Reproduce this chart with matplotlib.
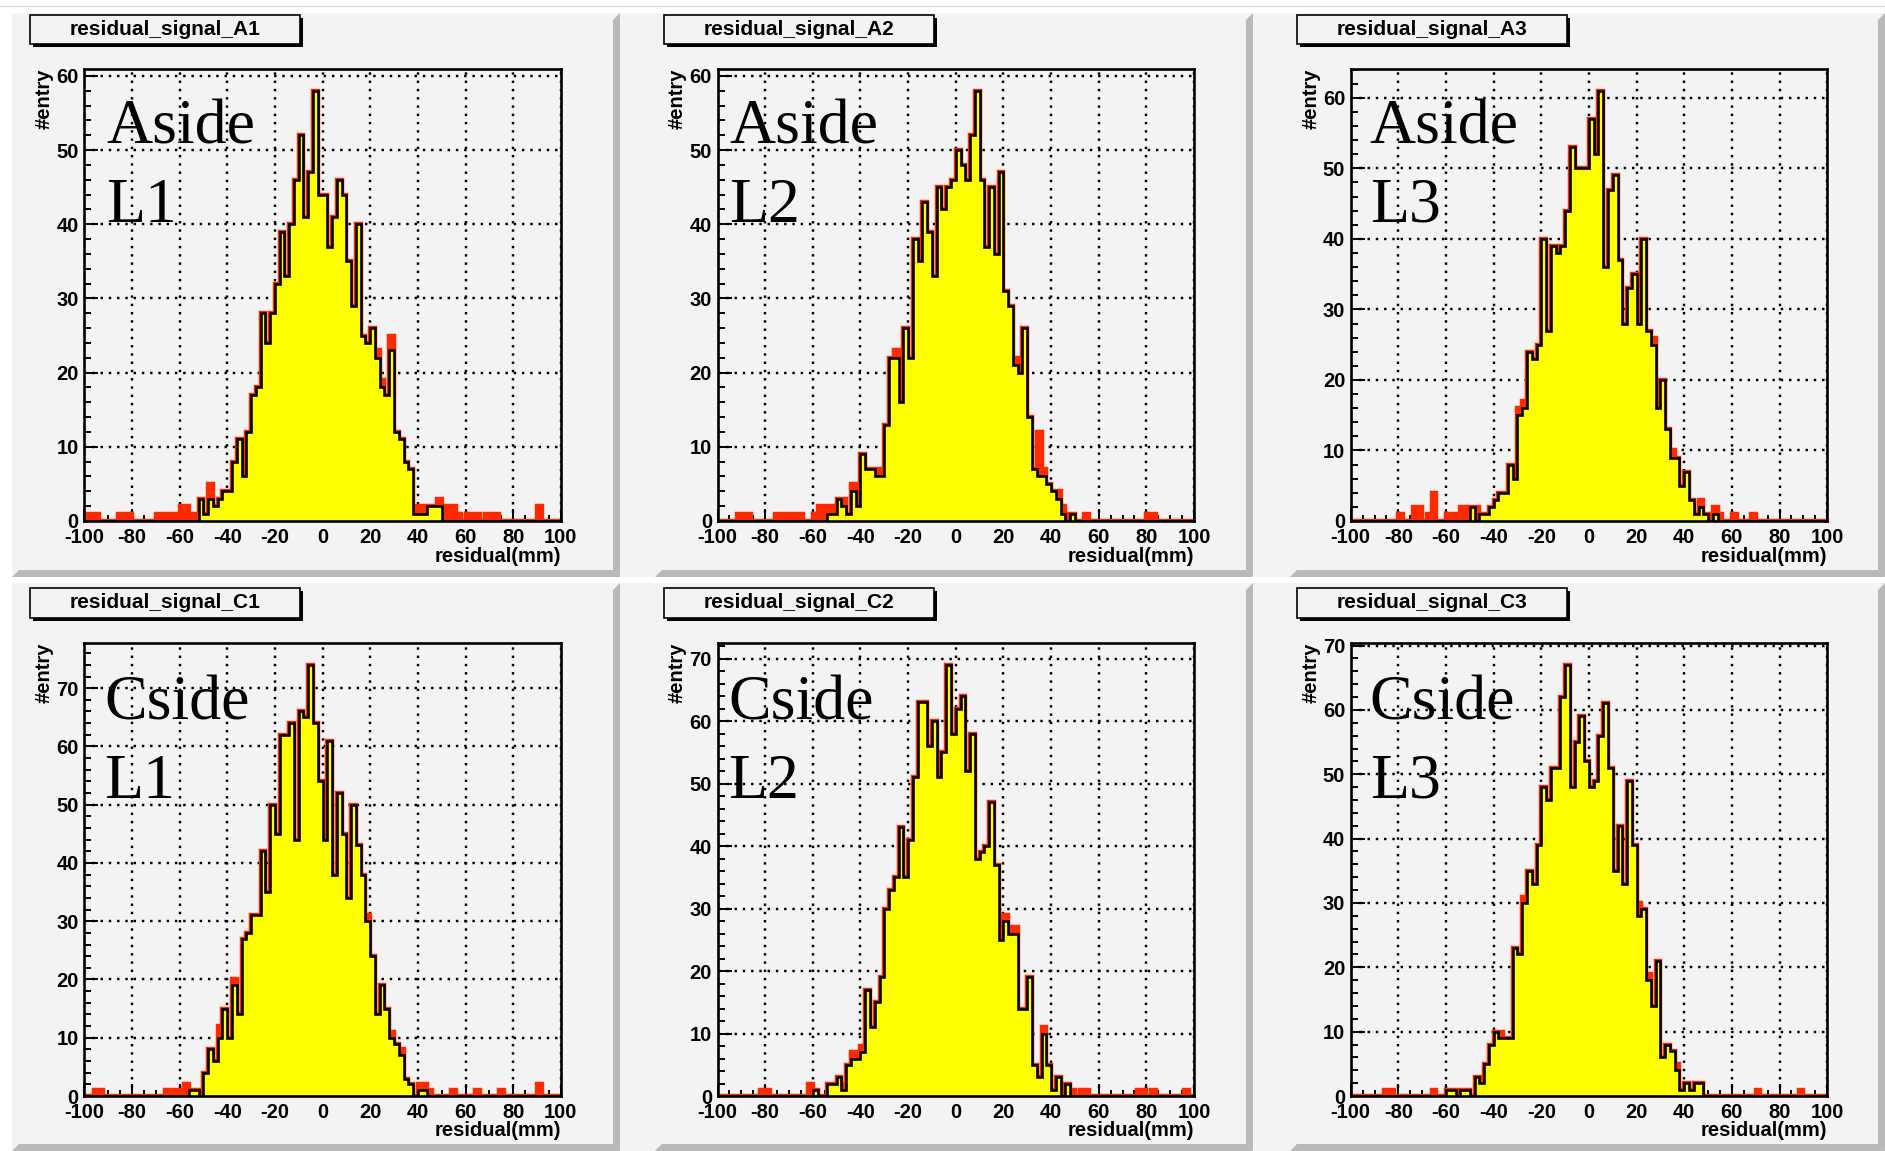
import numpy as np
import matplotlib
matplotlib.use("Agg")
import matplotlib.pyplot as plt
from matplotlib.patches import Rectangle, Polygon
from matplotlib.lines import Line2D

plt.rcParams['axes.unicode_minus'] = False
plt.rcParams['font.family'] = ['Liberation Sans', 'DejaVu Sans']

# ---------------- data (counts per 2 mm bin, -100..100 mm, 100 bins) -------------
X_LO, X_HI, NBINS = -100, 100, 100

PANEL_NAMES = ["residual_signal_A1", "residual_signal_A2", "residual_signal_A3",
               "residual_signal_C1", "residual_signal_C2", "residual_signal_C3"]
SIDE_LABELS = ["Aside", "Aside", "Aside", "Cside", "Cside", "Cside"]
LAYER_LABELS = ["L1", "L2", "L3", "L1", "L2", "L3"]
X_TICKS = [-100, -80, -60, -40, -20, 0, 20, 40, 60, 80, 100]
X_TITLE = "residual(mm)"
Y_TITLE = "#entry"

# yellow (black outline) histograms
A1_SIG = [0, 0, 0, 0, 0, 0, 0, 0, 0, 0,
          0, 0, 0, 0, 0, 0, 0, 0, 0, 0,
          0, 0, 0, 0, 3, 1, 3, 2, 3, 4,
          4, 8, 11, 6, 12, 17, 18, 28, 24, 28,
          32, 39, 33, 40, 46, 52, 41, 47, 58, 44,
          44, 37, 41, 46, 44, 35, 29, 40, 25, 24,
          26, 22, 18, 17, 23, 12, 11, 8, 7, 1,
          1, 1, 2, 2, 2, 0, 0, 0, 0, 0,
          0, 0, 0, 0, 0, 0, 0, 0, 0, 0,
          0, 0, 0, 0, 0, 0, 0, 0, 0, 0]
A2_SIG = [0, 0, 0, 0, 0, 0, 0, 0, 0, 0,
          0, 0, 0, 0, 0, 0, 0, 0, 0, 0,
          0, 0, 0, 1, 1, 3, 2, 1, 4, 2,
          9, 7, 7, 6, 6, 13, 22, 22, 16, 26,
          22, 38, 35, 43, 39, 33, 45, 42, 45, 46,
          50, 48, 46, 52, 58, 46, 37, 45, 36, 47,
          31, 29, 21, 20, 26, 14, 7, 6, 6, 5,
          4, 3, 1, 0, 1, 0, 0, 0, 0, 0,
          0, 0, 0, 0, 0, 0, 0, 0, 0, 0,
          0, 0, 0, 0, 0, 0, 0, 0, 0, 0]
A3_SIG = [0, 0, 0, 0, 0, 0, 0, 0, 0, 0,
          0, 0, 0, 0, 0, 0, 0, 0, 0, 0,
          0, 0, 0, 0, 0, 2, 0, 1, 1, 2,
          3, 4, 4, 8, 6, 15, 16, 24, 23, 25,
          40, 27, 39, 38, 39, 44, 53, 50, 50, 50,
          57, 52, 61, 36, 47, 49, 37, 28, 33, 35,
          28, 40, 27, 25, 16, 20, 13, 9, 9, 5,
          7, 3, 1, 2, 1, 0, 1, 0, 0, 0,
          0, 0, 0, 0, 0, 0, 0, 0, 0, 0,
          0, 0, 0, 0, 0, 0, 0, 0, 0, 0]
C1_SIG = [0, 0, 0, 0, 0, 0, 0, 0, 0, 0,
          0, 0, 0, 0, 0, 0, 0, 0, 0, 0,
          0, 0, 1, 1, 0, 4, 8, 6, 10, 15,
          10, 19, 14, 27, 28, 31, 31, 42, 35, 50,
          45, 62, 62, 64, 44, 66, 65, 74, 64, 54,
          44, 61, 38, 52, 45, 34, 50, 43, 38, 30,
          24, 14, 19, 15, 10, 9, 7, 3, 2, 0,
          1, 1, 0, 0, 0, 0, 0, 0, 0, 0,
          0, 0, 0, 0, 0, 0, 0, 0, 0, 0,
          0, 0, 0, 0, 0, 0, 0, 0, 0, 0]
C2_SIG = [0, 0, 0, 0, 0, 0, 0, 0, 0, 0,
          0, 0, 0, 0, 0, 0, 0, 0, 0, 0,
          1, 0, 0, 2, 2, 3, 1, 5, 6, 6,
          7, 17, 11, 15, 19, 30, 33, 35, 43, 35,
          41, 51, 63, 63, 56, 60, 51, 55, 69, 58,
          62, 64, 52, 58, 38, 39, 40, 47, 37, 25,
          28, 26, 26, 14, 14, 19, 5, 3, 10, 5,
          1, 3, 0, 2, 0, 0, 0, 0, 0, 0,
          0, 0, 0, 0, 0, 0, 0, 0, 0, 0,
          0, 0, 0, 0, 0, 0, 0, 0, 0, 0]
C3_SIG = [0, 0, 0, 0, 0, 0, 0, 0, 0, 0,
          0, 0, 0, 0, 0, 0, 0, 0, 0, 0,
          1, 1, 0, 1, 1, 0, 3, 2, 5, 8,
          10, 9, 9, 9, 23, 22, 30, 35, 33, 39,
          48, 46, 51, 51, 62, 67, 48, 55, 59, 52,
          48, 49, 56, 61, 51, 35, 42, 33, 49, 39,
          28, 29, 18, 14, 21, 6, 8, 7, 4, 1,
          2, 1, 2, 2, 0, 0, 0, 0, 0, 0,
          0, 0, 0, 0, 0, 0, 0, 0, 0, 0,
          0, 0, 0, 0, 0, 0, 0, 0, 0, 0]

# red histograms (all entries)
A1_ALL = [1, 1, 1, 0, 0, 0, 0, 1, 1, 1,
          0, 0, 0, 0, 0, 1, 1, 1, 1, 1,
          2, 2, 1, 1, 3, 1, 5, 2, 3, 4,
          4, 8, 11, 6, 12, 17, 18, 28, 24, 28,
          32, 39, 33, 40, 46, 52, 41, 47, 58, 44,
          44, 37, 41, 46, 44, 35, 29, 40, 25, 24,
          26, 23, 19, 17, 25, 12, 11, 8, 7, 2,
          2, 1, 2, 2, 3, 0, 2, 2, 1, 0,
          1, 1, 1, 0, 1, 1, 1, 0, 0, 0,
          0, 0, 0, 0, 0, 2, 0, 0, 0, 0]
A2_ALL = [0, 0, 0, 0, 1, 1, 1, 0, 0, 0,
          0, 0, 1, 1, 1, 1, 1, 1, 0, 0,
          1, 2, 2, 2, 2, 3, 3, 1, 5, 2,
          9, 7, 7, 7, 7, 13, 22, 23, 16, 26,
          22, 38, 35, 43, 39, 33, 45, 42, 45, 46,
          50, 48, 46, 52, 58, 46, 37, 45, 36, 47,
          31, 29, 22, 20, 26, 14, 7, 12, 7, 5,
          4, 4, 2, 1, 1, 0, 0, 1, 0, 0,
          0, 0, 0, 0, 0, 0, 0, 0, 0, 0,
          1, 1, 0, 0, 0, 0, 0, 0, 0, 0]
A3_ALL = [0, 0, 0, 0, 0, 0, 0, 0, 0, 0,
          1, 0, 0, 2, 2, 0, 1, 4, 0, 0,
          1, 1, 1, 2, 2, 2, 2, 1, 1, 2,
          3, 4, 4, 8, 6, 16, 17, 24, 23, 25,
          40, 27, 39, 38, 39, 44, 53, 50, 50, 50,
          57, 52, 61, 36, 47, 49, 37, 28, 33, 35,
          28, 40, 27, 26, 16, 20, 13, 10, 9, 5,
          7, 3, 1, 3, 1, 1, 2, 1, 0, 0,
          1, 0, 0, 0, 1, 0, 0, 0, 0, 0,
          0, 0, 0, 0, 0, 0, 0, 0, 0, 0]
C1_ALL = [0, 0, 1, 1, 0, 0, 0, 0, 0, 0,
          0, 0, 0, 0, 0, 0, 0, 1, 1, 1,
          0, 2, 1, 1, 0, 4, 8, 6, 12, 15,
          10, 20, 14, 27, 28, 31, 31, 42, 35, 50,
          45, 62, 62, 64, 44, 66, 65, 74, 64, 54,
          44, 61, 38, 52, 45, 34, 50, 43, 38, 31,
          24, 14, 19, 15, 11, 9, 8, 3, 2, 0,
          2, 2, 1, 0, 0, 0, 0, 1, 0, 0,
          0, 0, 1, 0, 0, 0, 0, 1, 0, 0,
          0, 0, 0, 0, 0, 2, 0, 0, 0, 0]
C2_ALL = [0, 0, 0, 0, 0, 0, 0, 0, 0, 1,
          1, 0, 0, 0, 0, 0, 0, 0, 0, 2,
          1, 0, 0, 2, 2, 3, 2, 5, 7, 7,
          8, 17, 11, 15, 19, 30, 33, 35, 43, 35,
          41, 51, 63, 63, 56, 60, 51, 55, 69, 58,
          62, 64, 52, 58, 38, 39, 40, 47, 37, 29,
          29, 27, 27, 14, 14, 19, 5, 3, 11, 5,
          1, 3, 1, 2, 1, 0, 1, 1, 0, 0,
          0, 0, 0, 0, 0, 0, 0, 0, 1, 1,
          0, 1, 0, 0, 0, 0, 0, 0, 1, 0]
C3_ALL = [0, 0, 0, 0, 0, 0, 0, 1, 1, 0,
          0, 0, 0, 0, 0, 0, 0, 1, 0, 0,
          1, 1, 1, 1, 1, 0, 3, 3, 5, 8,
          10, 10, 9, 9, 23, 22, 31, 35, 33, 39,
          48, 46, 51, 51, 62, 67, 48, 55, 59, 52,
          48, 49, 56, 61, 51, 35, 42, 33, 49, 39,
          30, 29, 19, 14, 21, 6, 8, 7, 5, 1,
          2, 1, 2, 2, 0, 0, 0, 0, 0, 0,
          0, 0, 0, 0, 0, 1, 0, 0, 0, 0,
          0, 0, 0, 0, 1, 0, 0, 0, 0, 0]

SIGNALS = [A1_SIG, A2_SIG, A3_SIG, C1_SIG, C2_SIG, C3_SIG]
ALLS = [A1_ALL, A2_ALL, A3_ALL, C1_ALL, C2_ALL, C3_ALL]

# ---------------- styling / layout ----------------
W, H = 1885, 1151
PAD_GRAY = '#f3f3f3'
BEVEL = '#b9b9b9'
RED = '#ff2a00'
YELLOW = '#ffff00'
SANS = ['Liberation Sans', 'DejaVu Sans']
SERIF = ['Liberation Serif', 'DejaVu Serif']

fig = plt.figure(figsize=(W / 100, H / 100), dpi=100)
fig.patch.set_facecolor('white')


def fx(x):
    return x / W


def fy(y):
    return 1 - y / H


# thin line at very top
fig.add_artist(Line2D([0, 1], [fy(6), fy(6)], color='#dddddd', lw=1.0,
                      transform=fig.transFigure, zorder=-2))

ROWS = [(13, 577), (583, 1151)]
COLS = [(12, 620), (655, 1253), (1290, 1885)]
BW = 7
for (t, b) in ROWS:
    fig.add_artist(Rectangle((fx(12), fy(b)), fx(W) - fx(12), fy(t) - fy(b),
                             transform=fig.transFigure, facecolor=PAD_GRAY,
                             edgecolor='none', zorder=-2))
    for (l, r) in COLS:
        fig.add_artist(Polygon([(fx(r), fy(t)), (fx(r), fy(b)), (fx(r - BW), fy(b - BW)),
                                (fx(r - BW), fy(t + BW))], closed=True,
                               transform=fig.transFigure, facecolor=BEVEL,
                               edgecolor='none', zorder=-1))
        fig.add_artist(Polygon([(fx(l), fy(b)), (fx(r), fy(b)), (fx(r - BW), fy(b - BW)),
                                (fx(l + BW), fy(b - BW))], closed=True,
                               transform=fig.transFigure, facecolor=BEVEL,
                               edgecolor='none', zorder=-1))

AX_LEFTS = [84.3, 717.5, 1350.7]
AX_W = 476.5
AX_ROWS = [(69.3, 521.0), (643.3, 1096.0)]
TITLE_ROWS = [(15, 44), (588, 618)]
TEXT_DX = [22, 12, 19, 20, 10.5, 19]
TEXT_BASE = [(143, 222), (719, 797.5)]

edges = np.linspace(X_LO, X_HI, NBINS + 1)
FS = 14.5

for k in range(6):
    row, col = divmod(k, 3)
    l = AX_LEFTS[col]
    t, b = AX_ROWS[row]
    ax = fig.add_axes([fx(l), fy(b), AX_W / W, (b - t) / H])
    ax.set_facecolor(PAD_GRAY)
    sig = np.array(SIGNALS[k], dtype=float)
    alln = np.array(ALLS[k], dtype=float)
    ymax = 1.05 * alln.max()

    ax.stairs(alln, edges, fill=True, color=RED, zorder=1.0)
    ax.stairs(alln, edges, color=RED, lw=3.2, zorder=1.1)
    ax.stairs(sig, edges, fill=True, color=YELLOW, zorder=1.2)
    ax.stairs(sig, edges, color='black', lw=1.9, zorder=1.3)

    ax.set_xlim(X_LO, X_HI)
    ax.set_ylim(0, ymax)
    ax.set_xticks(X_TICKS)
    ax.set_xticklabels([str(v) for v in X_TICKS])
    ax.set_xticks(np.arange(X_LO, X_HI + 1, 5), minor=True)
    yt = np.arange(0, ymax, 10)
    ax.set_yticks(yt)
    ax.set_yticklabels([str(int(v)) for v in yt])
    ax.set_yticks(np.arange(0, ymax, 2), minor=True)
    ax.set_axisbelow(True)
    ax.grid(True, which='major', color='black', linestyle=(0, (1.0, 2.4)), lw=1.75)
    ax.tick_params(which='both', direction='in', top=False, right=False,
                   width=1.4, color='black')
    ax.tick_params(axis='x', which='major', length=9, pad=5)
    ax.tick_params(axis='x', which='minor', length=4.5)
    ax.tick_params(axis='y', which='major', length=10, pad=4)
    ax.tick_params(axis='y', which='minor', length=5)
    for lab in ax.get_xticklabels() + ax.get_yticklabels():
        lab.set_fontfamily(SANS)
        lab.set_fontweight('bold')
        lab.set_fontsize(FS)
    for sp in ax.spines.values():
        sp.set_linewidth(1.9)
        sp.set_color('black')
        sp.set_zorder(3)

    # axis titles
    fig.text(fx(l - 40), fy(t - 1), Y_TITLE, rotation=90, ha='center', va='top',
             fontsize=FS, fontweight='bold', family=SANS)
    fig.text(fx(l + AX_W), fy(b + 35), X_TITLE, ha='right', va='center',
             fontsize=FS, fontweight='bold', family=SANS)

    # title box with shadow
    bt, bb = TITLE_ROWS[row]
    bl, br = l - 54, l + 216
    fig.add_artist(Rectangle((fx(bl + 3), fy(bb + 3)), (br - bl) / W, (bb - bt) / H,
                             transform=fig.transFigure, facecolor='black',
                             edgecolor='none', zorder=4))
    fig.add_artist(Rectangle((fx(bl), fy(bb)), (br - bl) / W, (bb - bt) / H,
                             transform=fig.transFigure, facecolor=PAD_GRAY,
                             edgecolor='black', lw=1.2, zorder=4.1))
    fig.text(fx((bl + br) / 2), fy((bt + bb) / 2), PANEL_NAMES[k], ha='center',
             va='center', fontsize=15, fontweight='bold', family=SANS, zorder=5)

    # big serif labels
    b1, b2 = TEXT_BASE[row]
    fig.text(fx(l + TEXT_DX[k]), fy(b1), SIDE_LABELS[k], ha='left', va='baseline',
             fontsize=46, family=SERIF, zorder=5)
    fig.text(fx(l + TEXT_DX[k]), fy(b2), LAYER_LABELS[k], ha='left', va='baseline',
             fontsize=46, family=SERIF, zorder=5)

fig.savefig('out.png', dpi=100, facecolor='white')
